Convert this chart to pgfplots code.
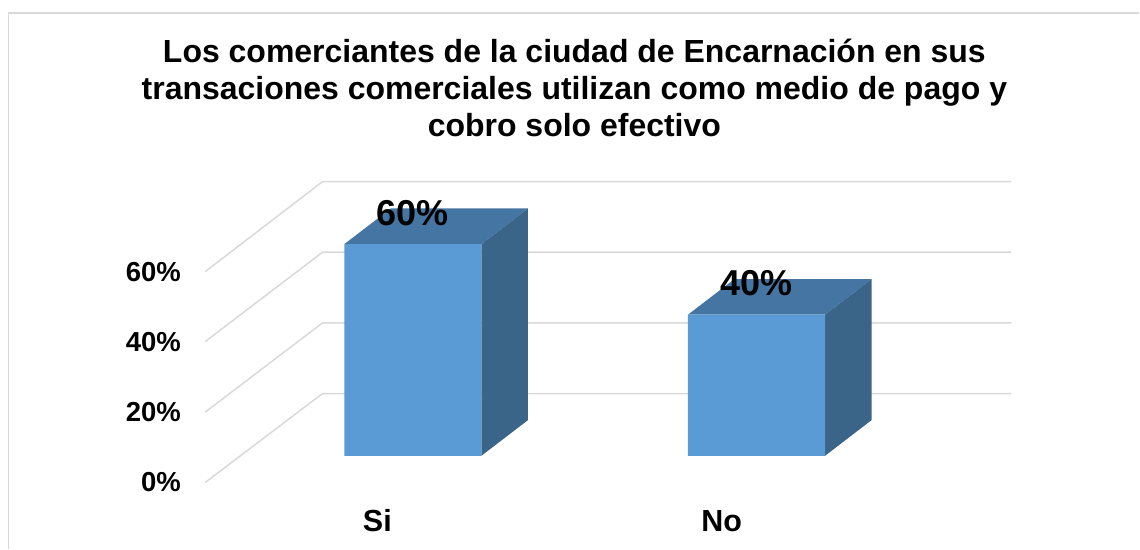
\documentclass[border=0pt]{standalone}
\usepackage{fontspec}
\setmainfont{Liberation Sans}
\usepackage{pgfplots}
\pgfplotsset{compat=1.18}
\definecolor{frontc}{HTML}{5B9BD5}
\definecolor{topc}{HTML}{4576A3}
\definecolor{sidec}{HTML}{3A6589}
\definecolor{gridc}{HTML}{D9D9D9}
\begin{document}
\begin{tikzpicture}
\begin{axis}[
  scale only axis,
  width=1140pt, height=549pt,
  xmin=0, xmax=1140,
  ymin=-26.346, ymax=129.178,
  axis line style={draw=none},
  major tick length=0pt,
  clip=false,
  ytick={-7.56,12.38,32.38,52.21},
  yticklabels={0\%,20\%,40\%,60\%},
  yticklabel style={anchor=east, inner sep=0pt, xshift=181pt,
    font=\fontsize{27.5}{30}\selectfont\bfseries},
  xtick={377.5,722},
  xticklabels={Si,No},
  xticklabel style={anchor=base, inner sep=0pt, yshift=17.5pt,
    font=\fontsize{30.5}{34}\selectfont\bfseries},
]
% gridlines (side wall + back wall)
\addplot[gridc, line width=1.5pt, mark=none] coordinates {(205.3,-7.56) (322.7,17.65) (1012,17.65)};
\addplot[gridc, line width=1.5pt, mark=none] coordinates {(205.3,12.38) (322.7,37.68) (1012,37.68)};
\addplot[gridc, line width=1.5pt, mark=none] coordinates {(205.3,32.38) (322.7,57.71) (1012,57.71)};
\addplot[gridc, line width=1.5pt, mark=none] coordinates {(205.3,52.21) (322.7,77.71) (1012,77.71)};
% top faces
\addplot[fill=topc, draw=none, mark=none] coordinates {(344.5,60) (481.7,60) (528.2,70.1) (391,70.1) (344.5,60)};
\addplot[fill=topc, draw=none, mark=none] coordinates {(688.4,40) (825.6,40) (872.1,50.1) (734.9,50.1) (688.4,40)};
% side faces
\addplot[fill=sidec, draw=none, mark=none] coordinates {(481.7,0) (528.2,10.1) (528.2,70.1) (481.7,60) (481.7,0)};
\addplot[fill=sidec, draw=none, mark=none] coordinates {(825.6,0) (872.1,10.1) (872.1,50.1) (825.6,40) (825.6,0)};
% front faces with data labels
\addplot[ybar, bar width=137.2, bar shift=0pt, fill=frontc, draw=none,
  point meta=explicit symbolic,
  nodes near coords,
  every node near coord/.style={anchor=base, yshift=19pt, inner sep=0pt,
    font=\fontsize{36}{40}\selectfont\bfseries, text=black}]
  coordinates {(413.1,60) [60\%] (757,40) [40\%]};
% title
\node[anchor=base, font=\fontsize{32}{37}\selectfont\bfseries] at (axis cs:574.7,111.42) {Los comerciantes de la ciudad de Encarnación en sus};
\node[anchor=base, font=\fontsize{32}{37}\selectfont\bfseries] at (axis cs:574.7,100.99) {transaciones comerciales utilizan como medio de pago y};
\node[anchor=base, font=\fontsize{32}{37}\selectfont\bfseries] at (axis cs:574.7,90.51) {cobro solo efectivo};
% chart border
\draw[gridc, line width=1.5pt] (rel axis cs:0.00746,0) -- (rel axis cs:0.00746,0.97687) -- (rel axis cs:1,0.97687);
\end{axis}
\end{tikzpicture}
\end{document}
